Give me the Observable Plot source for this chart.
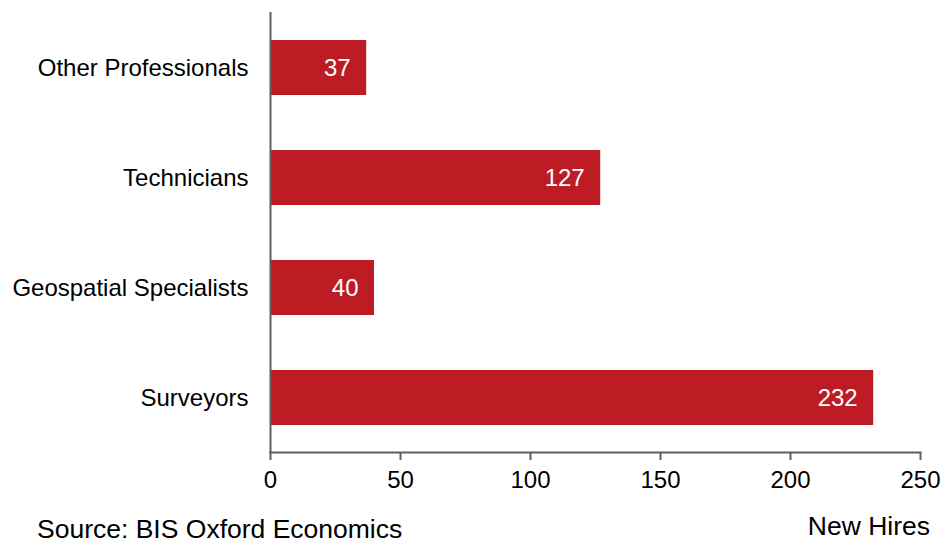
<!DOCTYPE html>
<html>
<head>
<meta charset="utf-8">
<script src="https://cdn.jsdelivr.net/npm/d3@7"></script>
<script src="https://cdn.jsdelivr.net/npm/@observablehq/plot@0.6"></script>
<style>
  html, body { margin: 0; padding: 0; background: #fff; }
  #wrap { position: relative; width: 944px; height: 545px; font-family: "Liberation Sans", Arial, sans-serif; }
  #wrap svg { position: absolute; left: 0; top: 0; }
  #source { position: absolute; left: 37px; top: 515px; font-size: 26.5px; line-height: 29px; color: #000; }
  #unit { position: absolute; right: 14px; top: 512px; font-size: 26.5px; line-height: 29px; color: #000; }
</style>
</head>
<body>
<div id="wrap"></div>
<script>
const categories = ["Other Professionals", "Technicians", "Geospatial Specialists", "Surveyors"];
const values = [37, 127, 40, 232];
const xTicks = [0, 50, 100, 150, 200, 250];
const sourceText = "Source: BIS Oxford Economics";
const unitText = "New Hires";

const data = categories.map((c, i) => ({category: c, value: values[i]}));
const axisColor = "#5a5f66";
const barColor = "#BE1C24";

const chart = Plot.plot({
  width: 944,
  height: 500,
  marginLeft: 270,
  marginRight: 24,
  marginTop: 12,
  marginBottom: 48,
  style: {fontFamily: "Liberation Sans, Arial, sans-serif", fontSize: "24px", color: "#000", background: "transparent"},
  x: {domain: [0, 250], ticks: xTicks, label: null},
  y: {domain: categories, paddingInner: 0.5, paddingOuter: 0.25, label: null},
  marks: [
    Plot.barX(data, {x: "value", y: "category", fill: barColor}),
    Plot.text(data, {x: "value", y: "category", text: d => String(d.value), fill: "#fff", textAnchor: "end", dx: -16, fontSize: 24}),
    Plot.axisY({tickSize: 0, tickPadding: 22, fontSize: 24, fill: "#000"}),
    Plot.axisX({ticks: xTicks, tickSize: 8, tickPadding: 10, stroke: axisColor, strokeWidth: 2, fontSize: 24, fill: "#000", label: null}),
    Plot.frame({anchor: "bottom", stroke: axisColor, strokeWidth: 2}),
    Plot.ruleX([0], {stroke: axisColor, strokeWidth: 2})
  ]
});

const wrap = document.getElementById("wrap");
wrap.appendChild(chart);
const s = document.createElement("div"); s.id = "source"; s.textContent = sourceText; wrap.appendChild(s);
const u = document.createElement("div"); u.id = "unit"; u.textContent = unitText; wrap.appendChild(u);
</script>
</body>
</html>
